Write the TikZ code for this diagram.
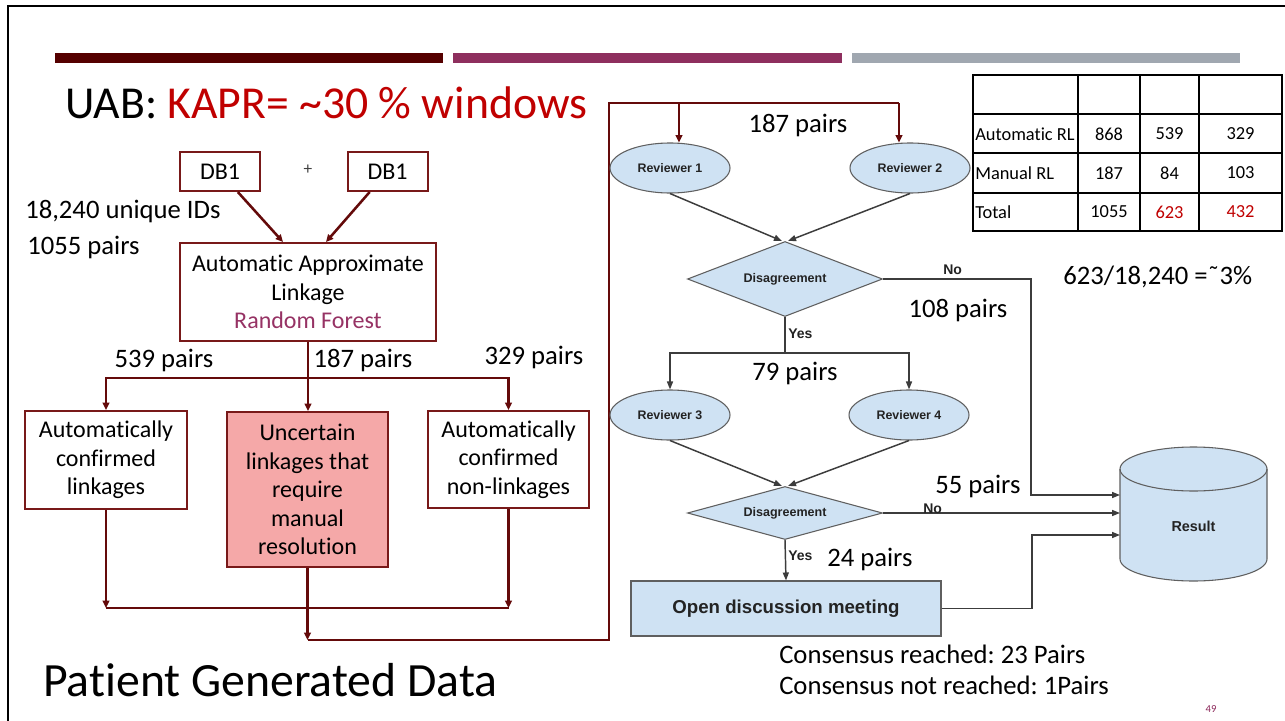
\documentclass[tikz,border=0pt]{standalone}
\usepackage{fontspec}
\setmainfont{Carlito}[Ligatures=NoCommon]
\newfontfamily\arialfont{Liberation Sans}
\usetikzlibrary{shapes.geometric,arrows.meta,calc}
\frenchspacing

\definecolor{maroonline}{RGB}{100,10,10}
\definecolor{boxedge}{RGB}{120,25,25}
\definecolor{barone}{RGB}{85,0,0}
\definecolor{bartwo}{RGB}{142,47,94}
\definecolor{barthree}{RGB}{160,167,176}
\definecolor{titlered}{RGB}{192,0,0}
\definecolor{rfpurple}{RGB}{150,50,100}
\definecolor{pinkfill}{RGB}{245,168,168}
\definecolor{flowblue}{RGB}{207,226,243}
\definecolor{flowedge}{RGB}{95,95,95}
\definecolor{flowline}{RGB}{60,60,60}
\definecolor{flowtext}{RGB}{35,35,35}
\definecolor{pagenum}{RGB}{140,40,90}

\begin{document}
\begin{tikzpicture}[x=0.75pt,y=-0.75pt,
  lbox/.style={draw=boxedge, line width=1.5pt, fill=white, align=center,
    inner sep=2pt, font=\fontsize{18}{21.4}\selectfont},
  mline/.style={draw=maroonline, line width=1.9pt},
  marrow/.style={mline, -{Triangle[length=5.5pt,width=5pt]}},
  reviewer/.style={ellipse, draw=flowedge, line width=0.8pt, fill=flowblue,
    minimum width=90pt, minimum height=37.5pt, inner sep=0pt, text=flowtext,
    font=\arialfont\bfseries\fontsize{9.3}{11}\selectfont},
  decision/.style={diamond, aspect=3.5, draw=flowedge, fill=flowblue,
    line width=0.8pt, inner sep=0pt, text=flowtext,
    font=\arialfont\bfseries\fontsize{9.4}{11}\selectfont},
  fline/.style={draw=flowline, line width=1.1pt},
  farrow/.style={fline, -{Triangle[length=6pt,width=4.5pt]}},
  lbl/.style={font=\fontsize{20}{24}\selectfont, inner sep=0pt},
  flbl/.style={font=\arialfont\bfseries\fontsize{10.5}{12}\selectfont,
    text=flowtext, inner sep=0pt},
  cell/.style={font=\fontsize{13.8}{16}\selectfont, inner sep=0pt},
  tline/.style={draw=black, line width=0.8pt}
]
\useasboundingbox (0,0) rectangle (1285,721);
\fill[white] (0,0) rectangle (1285,721);

% slide frame and header bars
\draw[line width=1.6pt] (8,721) -- (8,6) -- (1285,6);
\fill[barone] (55,53) rectangle (443,63);
\fill[bartwo] (453,53) rectangle (842,63);
\fill[barthree] (852,53) rectangle (1240,63);

% titles
\node[anchor=base west, inner sep=0pt, font=\fontsize{34.3}{40}\selectfont] (title) at (65,118)
  {UAB: \textcolor{titlered}{KAPR= \textasciitilde30 \% windows}};
\node[anchor=base west, inner sep=0pt, font=\fontsize{35.8}{42}\selectfont] (footer) at (43,696)
  {Patient Generated Data};

% automatic linkage stage
\node[lbox, minimum width=60pt, minimum height=29.25pt] (db1a) at (220,171.5) {DB1};
\node[lbox, minimum width=60pt, minimum height=29.25pt] (db1b) at (387.5,171.5) {DB1};
\node[inner sep=0pt, font=\fontsize{13}{15}\selectfont, text=black!75] (plus) at (308,170) {+};
\node[lbl, anchor=base west] (ids) at (25,218) {18,240 unique IDs};
\node[lbl, anchor=base west] (pairsall) at (27,254) {1055 pairs};

\node[lbox, minimum width=192pt, minimum height=73.5pt] (aal) at (308,292)
  {Automatic Approximate\\Linkage\\\textcolor{rfpurple}{Random Forest}};

\node[lbox, minimum width=121.5pt, minimum height=73.5pt] (boxL) at (106,460)
  {Automatically\\confirmed\\linkages};
\node[lbox, fill=pinkfill, minimum width=120.75pt, minimum height=116.25pt] (boxM) at (307.5,489.5)
  {Uncertain\\linkages that\\require\\manual\\resolution};
\node[lbox, minimum width=120.75pt, minimum height=72.75pt] (boxR) at (508.5,459.5)
  {Automatically\\confirmed\\non-linkages};

\node[lbl, anchor=base] (p539) at (164,367) {539 pairs};
\node[lbl, anchor=base] (p187a) at (363,367) {187 pairs};
\node[lbl, anchor=base] (p329) at (534,364) {329 pairs};

\draw[marrow] (db1a.-49) -- ($(aal.north)+(-25,0)$);
\draw[marrow] (db1b.-131) -- ($(aal.north)+(18,0)$);

\coordinate (split1) at (308,378);
\draw[mline] (aal.south) -- (split1);
\draw[marrow] (split1) -| (boxL.north);
\draw[marrow] (split1) -| (boxR.north);
\draw[marrow] (split1) -- (split1 |- boxM.north);

\coordinate (mergeL) at (106,608);
\coordinate (mergeR) at (508.5,608);
\draw[marrow] (boxL.south) -- (mergeL);
\draw[marrow] (boxR.south) -- (mergeR);
\draw[mline] (mergeL) -- (mergeR);

\coordinate (mergeM) at (307.5,640);
\coordinate (riseB) at (609,640);
\coordinate (riseT) at (609,103);
\coordinate (feedL) at (679,103);
\coordinate (feedR) at (899,103);
\draw[marrow] (boxM.south) -- (mergeM);
\draw[mline] (mergeM) -- (riseB) -- (riseT) -- (feedR);

% manual review flow
\node[reviewer] (rev1) at (670,168) {Reviewer 1};
\node[reviewer] (rev2) at (910,168) {Reviewer 2};
\node[decision, minimum width=146.25pt, minimum height=56.25pt] (dis1) at (785,279) {Disagreement};
\node[reviewer] (rev3) at (670,415) {Reviewer 3};
\node[reviewer] (rev4) at (909,415) {Reviewer 4};
\node[decision, minimum width=146.25pt, minimum height=39.75pt] (dis2) at (785,513) {Disagreement};
\node[draw=flowedge, fill=flowblue, line width=0.8pt, minimum width=232.5pt, minimum height=41.25pt,
  inner sep=0pt, text=flowtext, font=\arialfont\bfseries\fontsize{14}{16}\selectfont] (odm) at (786,608.5)
  {Open discussion meeting};

% result store
\draw[fill=flowblue, draw=flowedge, line width=0.8pt]
  (1120,469) -- (1120,559)
  arc[start angle=180, end angle=360, x radius=55.125pt, y radius=16.5pt]
  -- (1267,469)
  arc[start angle=0, end angle=180, x radius=55.125pt, y radius=16.5pt] -- cycle;
\draw[draw=flowedge, line width=0.8pt]
  (1120,469) arc[start angle=180, end angle=360, x radius=55.125pt, y radius=16.5pt];
\node[flbl, font=\arialfont\bfseries\fontsize{10.8}{12}\selectfont] (res) at (1193.5,526) {Result};
\coordinate (resin1) at (1120,495);
\coordinate (resin2) at (1120,513);
\coordinate (resin3) at (1120,535);

\draw[marrow] (feedL) -- (feedL |- rev1.north);
\draw[marrow] (feedR) -- (feedR |- rev2.north);

\draw[farrow] (rev1.south) -- ($(dis1.north)+(-3,0)$);
\draw[farrow] (rev2.south) -- ($(dis1.north)+(3,0)$);
\coordinate (nobend1) at (1031,279);
\draw[farrow] (dis1.east) -- (nobend1) |- (resin1);
\coordinate (yes1) at (785,353);
\draw[fline] (dis1.south) -- (yes1);
\draw[farrow] (yes1) -| (rev3.north);
\draw[farrow] (yes1) -| (rev4.north);
\draw[farrow] (rev3.south) -- ($(dis2.north)+(-3,0)$);
\draw[farrow] (rev4.south) -- ($(dis2.north)+(3,0)$);
\draw[farrow] (dis2.east) -- (resin2);
\draw[farrow] (dis2.south) -- (odm.north);
\coordinate (odmbend) at (1032,608.5);
\draw[farrow] (odm.east) -- (odmbend) |- (resin3);

\node[flbl, anchor=base west] (no1) at (943,274) {No};
\node[flbl, anchor=base west] (no2) at (923,513) {No};
\node[flbl, anchor=base west] (yeslbl1) at (788,338) {Yes};
\node[flbl, anchor=base west] (yeslbl2) at (788,560) {Yes};

\node[lbl, anchor=base] (p187b) at (798,132) {187 pairs};
\node[lbl, anchor=base] (p108) at (958,317) {108 pairs};
\node[lbl, anchor=base] (p79) at (795,380) {79 pairs};
\node[lbl, anchor=base west] (p55) at (935,493) {55 pairs};
\node[lbl, anchor=base west] (p24) at (827,566) {24 pairs};
\node[lbl, anchor=base west] (ratio) at (1063,284) {623/18,240 =\symbol{"02DC}3\%};
\node[lbl, anchor=base west] (cons1) at (779,663) {Consensus reached: 23 Pairs};
\node[lbl, anchor=base west] (cons2) at (779,694) {Consensus not reached: 1Pairs};
\node[anchor=base, inner sep=0pt, font=\fontsize{8}{9}\selectfont, text=pagenum] (pnum) at (1211,712) {49};

% summary table
\draw[tline] (973,75) rectangle (1282,231);
\draw[tline] (973,114) -- (1282,114);
\draw[tline] (973,153) -- (1282,153);
\draw[tline] (973,193) -- (1282,193);
\draw[tline] (1078,75) -- (1078,231);
\draw[tline] (1140,75) -- (1140,231);
\draw[tline] (1199,75) -- (1199,231);

\node[cell, anchor=west] (r1c1) at (975,134) {Automatic RL};
\node[cell] (r1c2) at (1109,134) {868};
\node[cell] (r1c3) at (1169.5,134) {539};
\node[cell] (r1c4) at (1240.5,134) {329};
\node[cell, anchor=west] (r2c1) at (975,173) {Manual RL};
\node[cell] (r2c2) at (1109,173) {187};
\node[cell] (r2c3) at (1169.5,173) {84};
\node[cell] (r2c4) at (1240.5,173) {103};
\node[cell, anchor=west] (r3c1) at (975,212) {Total};
\node[cell] (r3c2) at (1109,212) {1055};
\node[cell, text=titlered] (r3c3) at (1169.5,212) {623};
\node[cell, text=titlered] (r3c4) at (1240.5,212) {432};
\end{tikzpicture}
\end{document}
